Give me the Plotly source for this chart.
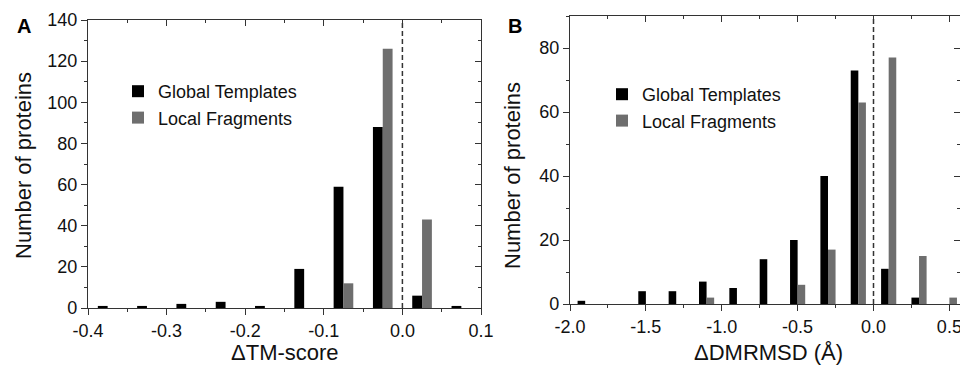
import plotly.graph_objects as go

# ---------------- data ----------------
# Panel A: ΔTM-score histogram (bin centres, width 0.05)
tm_bins = [-0.375, -0.325, -0.275, -0.225, -0.175, -0.125, -0.075, -0.025, 0.025, 0.075]
tm_global = [1, 1, 2, 3, 1, 19, 59, 88, 6, 1]
tm_local = [0, 0, 0, 0, 0, 0, 12, 126, 43, 0]

# Panel B: ΔDMRMSD histogram (bin centres, width 0.2)
dm_bins = [-1.9, -1.7, -1.5, -1.3, -1.1, -0.9, -0.7, -0.5, -0.3, -0.1, 0.1, 0.3, 0.5]
dm_global = [1, 0, 4, 4, 7, 5, 14, 20, 40, 73, 11, 2, 0]
dm_local = [0, 0, 0, 0, 2, 0, 0, 6, 17, 63, 77, 15, 2]

tm_ticks = [-0.4, -0.3, -0.2, -0.1, 0.0, 0.1]
tm_ticklabels = ["-0.4", "-0.3", "-0.2", "-0.1", "0.0", "0.1"]
dm_ticks = [-2.0, -1.5, -1.0, -0.5, 0.0, 0.5]
dm_ticklabels = ["-2.0", "-1.5", "-1.0", "-0.5", "0.0", "0.5"]

ZERO = 0.0
series_names = ["Global Templates", "Local Fragments"]

# ---------------- style ----------------
W, H = 960, 367
FONT = "Liberation Sans, Arial, Helvetica, sans-serif"
BLACK = "#000000"
GREY = "#6e6e6e"
AX = "#333333"

def px(v):
    return v / W

def py(v):
    return 1 - v / H

fig = go.Figure()

fig.add_trace(go.Bar(x=tm_bins, y=tm_global, name=series_names[0], marker=dict(color=BLACK, line=dict(width=0)),
                     xaxis="x", yaxis="y", legend="legend"))
fig.add_trace(go.Bar(x=tm_bins, y=tm_local, name=series_names[1], marker=dict(color=GREY, line=dict(width=0)),
                     xaxis="x", yaxis="y", legend="legend"))
fig.add_trace(go.Bar(x=dm_bins, y=dm_global, name=series_names[0], marker=dict(color=BLACK, line=dict(width=0)),
                     xaxis="x2", yaxis="y2", legend="legend2"))
fig.add_trace(go.Bar(x=dm_bins, y=dm_local, name=series_names[1], marker=dict(color=GREY, line=dict(width=0)),
                     xaxis="x2", yaxis="y2", legend="legend2"))
# empty traces to activate the mirrored (top/right) frame axes
fig.add_trace(go.Scatter(x=[], y=[], xaxis="x3", yaxis="y3", showlegend=False, hoverinfo="skip"))
fig.add_trace(go.Scatter(x=[], y=[], xaxis="x4", yaxis="y4", showlegend=False, hoverinfo="skip"))

A_x = [px(88), px(481)]
A_y = [py(308), py(20)]
B_x = [px(570), 1.0]
B_y = [py(304), py(16)]
A_xr = [-0.4, 0.1]
A_yr = [0, 140]
B_xr = [-2.0, 0.57]
B_yr = [0, 90]

tickfont = dict(family=FONT, size=18, color="#111")
common = dict(showline=True, linecolor=AX, linewidth=1.3, ticks="outside", ticklen=6, tickwidth=1.2,
              tickcolor=AX, showgrid=False, zeroline=False, tickfont=tickfont, automargin=False,
              ticklabeloverflow="allow")
frame = dict(showticklabels=False, showline=True, linecolor=AX, linewidth=1.3, ticks="inside", ticklen=6,
             tickwidth=1.2, tickcolor=AX, showgrid=False, zeroline=False, automargin=False)

def minor(d, side):
    return dict(dtick=d, ticks=side, ticklen=3, tickwidth=1.2, tickcolor=AX)

fig.update_layout(
    width=W, height=H,
    margin=dict(l=0, r=0, t=0, b=0, autoexpand=False),
    paper_bgcolor="white", plot_bgcolor="white",
    barmode="group", bargap=0.5, bargroupgap=0,
    font=dict(family=FONT, color="#111"),
    xaxis=dict(domain=A_x, anchor="y", range=A_xr, tickvals=tm_ticks, ticktext=tm_ticklabels,
               minor=minor(0.05, "outside"), **common),
    yaxis=dict(domain=A_y, anchor="x", range=A_yr, dtick=20, minor=minor(10, "outside"), **common),
    xaxis2=dict(domain=B_x, anchor="y2", range=B_xr, tickvals=dm_ticks, ticktext=dm_ticklabels,
                minor=minor(0.25, "outside"), **common),
    yaxis2=dict(domain=B_y, anchor="x2", range=B_yr, dtick=20, minor=minor(10, "outside"), **common),
    xaxis3=dict(domain=A_x, anchor="y3", overlaying="x", side="top", range=A_xr, tickvals=tm_ticks,
                minor=minor(0.05, "inside"), **frame),
    yaxis3=dict(domain=A_y, anchor="x3", overlaying="y", side="right", range=A_yr, dtick=20,
                minor=minor(10, "inside"), **frame),
    xaxis4=dict(domain=B_x, anchor="y4", overlaying="x2", side="top", range=B_xr, tickvals=dm_ticks,
                minor=minor(0.25, "inside"), **frame),
    yaxis4=dict(domain=B_y, anchor="x4", overlaying="y2", side="right", range=B_yr, dtick=20,
                minor=minor(10, "inside"), **frame),
    legend=dict(x=px(118), y=py(73), xanchor="left", yanchor="top", bgcolor="rgba(0,0,0,0)",
                font=dict(family=FONT, size=18, color="#111"), tracegroupgap=0, traceorder="normal"),
    legend2=dict(x=px(602), y=py(76), xanchor="left", yanchor="top", bgcolor="rgba(0,0,0,0)",
                 font=dict(family=FONT, size=18, color="#111"), tracegroupgap=0, traceorder="normal"),
    showlegend=True,
)

# dashed reference lines at zero
for xr, yr in (("x", "y domain"), ("x2", "y2 domain")):
    fig.add_shape(type="line", xref=xr, yref=yr, x0=ZERO, x1=ZERO, y0=0, y1=1,
                  line=dict(color=AX, width=1.5, dash="5px,3px"))

title_font = dict(family=FONT, size=22, color="#111")
annots = [
    dict(text="ΔTM-score", x=px(284.5), y=py(352), textangle=0),
    dict(text="ΔDMRMSD (Å)", x=px(768), y=py(352), textangle=0),
    dict(text="Number of proteins", x=px(23), y=py(166), textangle=-90),
    dict(text="Number of proteins", x=px(512), y=py(176), textangle=-90),
]
for a in annots:
    fig.add_annotation(xref="paper", yref="paper", showarrow=False, xanchor="center", yanchor="middle",
                       font=title_font, **a)
for letter, lx in (("A", 23.5), ("B", 515)):
    fig.add_annotation(text="<b>%s</b>" % letter, xref="paper", yref="paper", x=px(lx), y=py(26),
                       showarrow=False, xanchor="center", yanchor="middle",
                       font=dict(family=FONT, size=20, color="#000"))

fig.write_html("out.html", config={"displayModeBar": False},
               post_script="document.body.style.margin='0';document.body.style.overflow='hidden';")
